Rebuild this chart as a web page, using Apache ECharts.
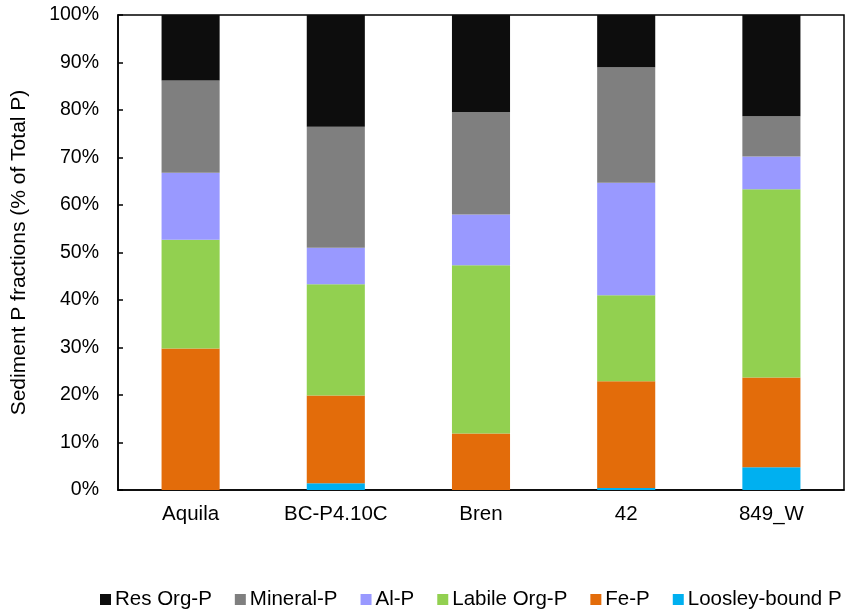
<!DOCTYPE html>
<html>
<head>
<meta charset="utf-8">
<script src="https://cdn.jsdelivr.net/npm/echarts@6/dist/echarts.min.js"></script>
<style>
html,body{margin:0;padding:0;background:#fff;}
#chart{width:846px;height:611px;}
</style>
</head>
<body>
<div id="chart"></div>
<script>
const categories = ['Aquila', 'BC-P4.10C', 'Bren', '42', '849_W'];
const loosleyBound = [0, 1.4, 0, 0.4, 4.8];
const feP = [29.8, 18.5, 11.9, 22.5, 18.9];
const labileOrgP = [22.9, 23.4, 35.4, 18.1, 39.6];
const alP = [14.1, 7.7, 10.7, 23.7, 6.9];
const mineralP = [19.4, 25.5, 21.6, 24.3, 8.5];
const resOrgP = [13.8, 23.5, 20.4, 11.0, 21.3];
const yTicks = [0, 10, 20, 30, 40, 50, 60, 70, 80, 90, 100];
const legendOrder = ['Res Org-P', 'Mineral-P', 'Al-P', 'Labile Org-P', 'Fe-P', 'Loosley-bound P'];

const font = 'Liberation Sans, Arial, sans-serif';
const seriesDefs = [
  {name: 'Loosley-bound P', data: loosleyBound, color: '#00b0f0'},
  {name: 'Fe-P', data: feP, color: '#e36c0a'},
  {name: 'Labile Org-P', data: labileOrgP, color: '#92d050'},
  {name: 'Al-P', data: alP, color: '#9999ff'},
  {name: 'Mineral-P', data: mineralP, color: '#7f7f7f'},
  {name: 'Res Org-P', data: resOrgP, color: '#0d0d0d'}
];

const chart = echarts.init(document.getElementById('chart'), null, {renderer: 'canvas'});
chart.setOption({
  animation: false,
  backgroundColor: '#fff',
  textStyle: {fontFamily: font, color: '#000'},
  grid: {left: 118, right: 2, top: 15, bottom: 121, show: true, borderColor: '#000', borderWidth: 1.5, containLabel: false, outerBoundsMode: 'none'},
  legend: {
    data: legendOrder,
    left: 100, top: 589, width: 780,
    padding: 0,
    itemWidth: 11, itemHeight: 11, itemGap: 23,
    icon: 'rect',
    textStyle: {fontFamily: font, fontSize: 20.5, color: '#000', padding: [0, 0, 0, -1]}
  },
  xAxis: {
    type: 'category',
    data: categories,
    axisLine: {lineStyle: {color: '#000', width: 1.5}},
    axisTick: {show: false},
    axisLabel: {fontFamily: font, fontSize: 20.5, color: '#000', margin: 14}
  },
  yAxis: {
    type: 'value',
    min: yTicks[0], max: yTicks[yTicks.length - 1], interval: 10,
    name: 'Sediment P fractions (% of Total P)',
    nameLocation: 'middle', nameRotate: 90, nameGap: 88,
    nameTextStyle: {fontFamily: font, fontSize: 21, color: '#000'},
    axisLine: {show: true, lineStyle: {color: '#000', width: 1.5}},
    axisTick: {show: true, inside: true, length: 5, lineStyle: {color: '#000', width: 1.5}},
    splitLine: {show: false},
    axisLabel: {fontFamily: font, fontSize: 19.5, color: '#000', margin: 19, formatter: '{value}%'}
  },
  series: seriesDefs.map(s => ({
    name: s.name,
    type: 'bar',
    stack: 'total',
    barWidth: '40%',
    data: s.data,
    itemStyle: {color: s.color}
  }))
});
</script>
</body>
</html>
